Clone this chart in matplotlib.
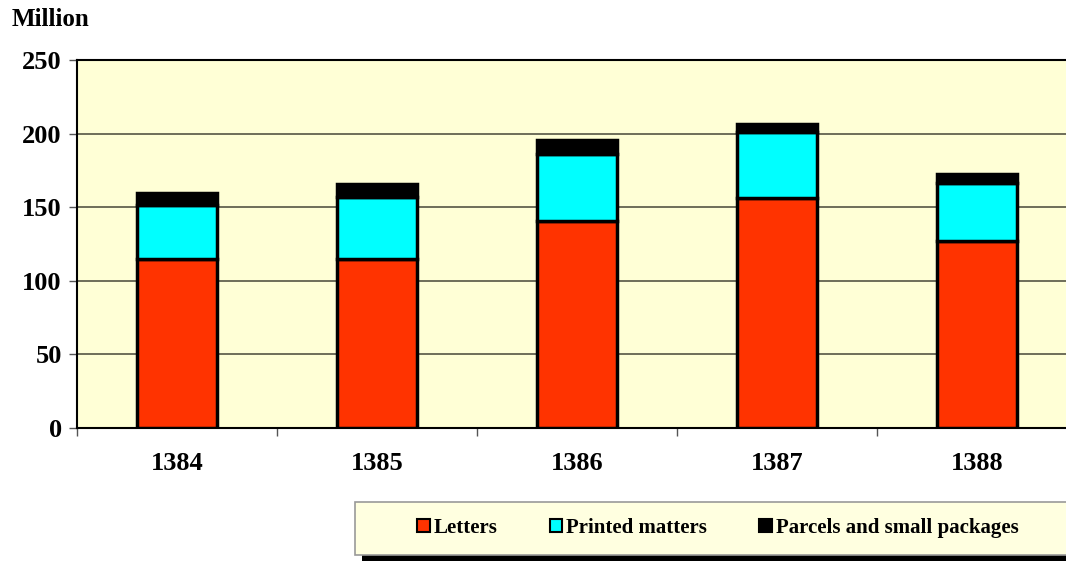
import matplotlib
matplotlib.use("Agg")
import matplotlib.pyplot as plt
from matplotlib.patches import Rectangle, Patch
import numpy as np

years = ["1384", "1385", "1386", "1387", "1388"]
letters = [114.8, 114.6, 140.8, 156.0, 127.2]
printed = [36.7, 42.5, 45.3, 44.9, 39.4]
parcels = [8.4, 8.9, 9.6, 5.4, 6.2]
series_names = ["Letters", "Printed matters", "Parcels and small packages"]
colors = ["#FF3300", "#00FFFF", "#000000"]
yticks = [0, 50, 100, 150, 200, 250]

plt.rcParams['font.family'] = ['Liberation Serif', 'DejaVu Serif']
plt.rcParams['font.weight'] = 'bold'

W, H = 1066, 561
fig = plt.figure(figsize=(W / 100, H / 100), dpi=100)
fig.patch.set_facecolor("white")

ax = fig.add_axes([77 / W, (H - 428) / H, 1000 / W, 368 / H])
ax.set_facecolor("#FFFFD6")

x = np.arange(len(years)) + 0.5
bottom = np.zeros(len(years))
for vals, col in zip([letters, printed, parcels], colors):
    ax.bar(x, vals, width=0.4, bottom=bottom, color=col, edgecolor="black",
           linewidth=2.5, zorder=3)
    bottom = bottom + np.array(vals)

ax.set_xlim(0, 5)
ax.set_ylim(0, 250)
ax.set_yticks(yticks)
ax.set_yticklabels([str(t) for t in yticks], fontsize=19, fontweight='bold')
ax.yaxis.grid(True, color="#555544", linewidth=1.2, zorder=1)
ax.set_axisbelow(True)

ax.set_xticks(np.arange(0, 6))
ax.set_xticklabels([])
ax.set_xticks(x, minor=True)
ax.set_xticklabels(years, minor=True, fontsize=19, fontweight='bold')
ax.tick_params(axis='x', which='minor', length=0, pad=17)
ax.tick_params(axis='x', which='major', length=6, width=1, color="#555555")
ax.tick_params(axis='y', length=6, width=1, color="#555555", pad=5)

for s in ax.spines.values():
    s.set_linewidth(1.5)
    s.set_color("black")

fig.text(12 / W, 1 - 19 / H, "Million", fontsize=18, fontweight='bold',
         ha='left', va='center')

# Legend box with shadow
fig.patches.append(Rectangle((362 / W, 1 - 561 / H), (W - 362) / W, 55 / H,
                             transform=fig.transFigure, facecolor="black",
                             edgecolor="none", zorder=1))
fig.patches.append(Rectangle((355 / W, 1 - 555 / H), (W - 355 + 5) / W, 53 / H,
                             transform=fig.transFigure, facecolor="#FFFFE0",
                             edgecolor="#999999", linewidth=1.2, zorder=2))

handles = [Patch(facecolor=c, edgecolor="black", linewidth=1.5) for c in colors]
leg = fig.legend(handles, series_names, loc='center', ncol=3,
                 bbox_to_anchor=(718 / W, 1 - 528 / H), frameon=False,
                 handlelength=0.6, handleheight=0.6,
                 handletextpad=0.2, columnspacing=2.5,
                 prop={'weight': 'bold', 'size': 15})
leg.set_zorder(5)

fig.savefig("out.png", dpi=100)
